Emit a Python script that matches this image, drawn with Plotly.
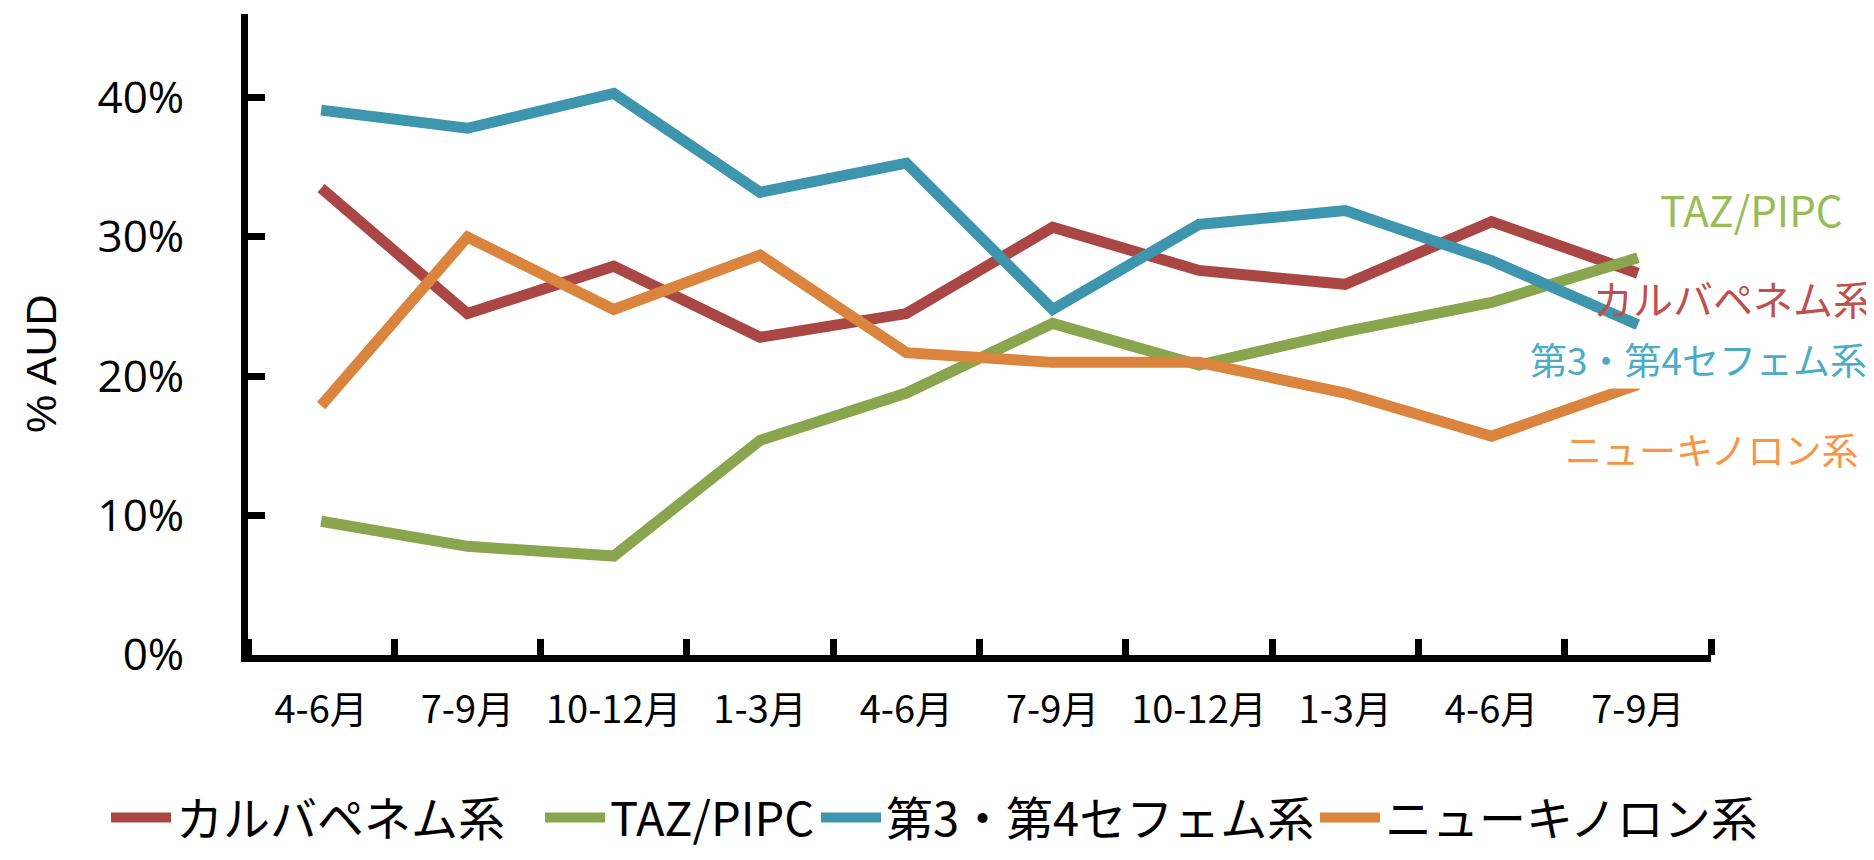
import plotly.graph_objects as go

# ---- data (values in %) ----
quarters = ["4-6月", "7-9月", "10-12月", "1-3月", "4-6月", "7-9月", "10-12月", "1-3月", "4-6月", "7-9月"]
series_names = ["カルバペネム系", "TAZ/PIPC", "第3・第4セフェム系", "ニューキノロン系"]
carbapenem = [33.5, 24.5, 27.9, 22.8, 24.5, 30.7, 27.6, 26.6, 31.1, 27.4]
taz_pipc = [9.6, 7.8, 7.1, 15.4, 18.8, 23.8, 20.8, 23.2, 25.3, 28.5]
cephem = [39.1, 37.8, 40.3, 33.2, 35.3, 24.8, 30.9, 31.9, 28.3, 23.7]
quinolone = [17.9, 30.0, 24.8, 28.7, 21.7, 21.0, 21.0, 18.8, 15.7, 19.4]
y_ticks = [0, 10, 20, 30, 40]
y_tick_text = ["0%", "10%", "20%", "30%", "40%"]
y_title = "% AUD"

series_values = [carbapenem, taz_pipc, cephem, quinolone]
line_colors = ["#AA4643", "#89A54E", "#3D96AE", "#DB843D"]
label_colors = ["#C0504D", "#9BBB59", "#4BACC6", "#F79646"]

W, H = 1874, 860
L, R, T, B = 240, 171, 6, 213
pw, ph = W - L - R, H - T - B

x_idx = list(range(len(quarters)))
legend_ids = ["legend", "legend2", "legend3", "legend4"]
legend_text_start_px = [182, 616, 892, 1391]

fig = go.Figure()
for name, vals, col, lid in zip(series_names, series_values, line_colors, legend_ids):
    fig.add_trace(go.Scatter(
        x=x_idx, y=vals, mode="lines", name=name, legend=lid,
        line=dict(color=col, width=11),
    ))

# right-side series labels: (right edge px, centre y px, font size)
label_pos = [(1868, 290, 40), (1838, 200, 42), (1862, 351, 37), (1853, 441, 37)]
label_bg = ["rgba(0,0,0,0)", "rgba(0,0,0,0)", "white", "white"]
for name, col, (px, py, fs), bg in zip(series_names, label_colors, label_pos, label_bg):
    fig.add_annotation(
        x=(px - L) / pw, y=(H - B - py) / ph, xref="paper", yref="paper",
        text=name, showarrow=False, xanchor="right", yanchor="middle",
        font=dict(family="Noto Sans CJK JP", size=fs, color=col),
        bgcolor=bg, borderpad=2,
    )

# y-axis title
fig.add_annotation(
    x=(33 - L) / pw, y=(H - B - 356) / ph, xref="paper", yref="paper",
    text=y_title, showarrow=False, textangle=-90,
    xanchor="center", yanchor="middle",
    font=dict(family="Liberation Sans", size=43, color="black"),
)

legend_layout = {}
for lid, tx in zip(legend_ids, legend_text_start_px):
    legend_layout[lid] = dict(
        orientation="h", xref="container", x=(tx - 84) / W, xanchor="left",
        yref="container", y=1 - 810 / H, yanchor="middle",
        itemwidth=60,
        font=dict(family="Noto Sans CJK JP", size=47, color="black"),
        bgcolor="rgba(0,0,0,0)", borderwidth=0,
    )

fig.update_layout(
    width=W, height=H,
    margin=dict(l=L, r=R, t=T, b=B, autoexpand=False),
    paper_bgcolor="white", plot_bgcolor="white",
    showlegend=True,
    xaxis=dict(
        range=[-0.5, len(quarters) - 0.5],
        tickmode="array", tickvals=x_idx, ticktext=quarters, tickangle=0,
        ticks="", showgrid=False, zeroline=False,
        showline=True, linecolor="black", linewidth=7,
        tickfont=dict(family="Noto Sans CJK JP", size=38, color="black"),
        ticklabelstandoff=15,
        minor=dict(tickmode="array",
                   tickvals=[i - 0.5 for i in range(len(quarters) + 1)],
                   ticks="inside", ticklen=16, tickwidth=7, tickcolor="black",
                   showgrid=False),
    ),
    yaxis=dict(
        range=[0, 46],
        tickmode="array", tickvals=y_ticks, ticktext=y_tick_text,
        ticks="inside", ticklen=17, tickwidth=7, tickcolor="black",
        showgrid=False, zeroline=False,
        showline=True, linecolor="black", linewidth=7,
        tickfont=dict(family="Open Sans", size=44, color="black"),
        ticklabelstandoff=48,
    ),
    **legend_layout,
)

fig.write_html("out.html")
